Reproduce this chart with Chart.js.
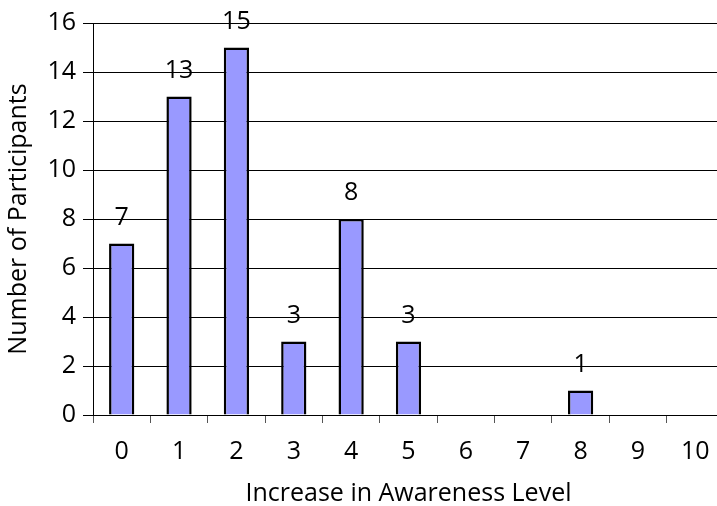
<!DOCTYPE html>
<html>
<head>
<meta charset="utf-8">
<script src="https://cdn.jsdelivr.net/npm/chart.js@4/dist/chart.umd.min.js"></script>
<style>
  html, body { margin: 0; padding: 0; background: #fff; overflow: hidden; }
  #wrap { width: 724px; height: 506px; }
</style>
</head>
<body>
<div id="wrap"><canvas id="myChart"></canvas></div>
<script>
var levels = ['0', '1', '2', '3', '4', '5', '6', '7', '8', '9', '10'];
var participants = [7, 13, 15, 3, 8, 3, 0, 0, 1, 0, 0];
var yTicks = [0, 2, 4, 6, 8, 10, 12, 14, 16];

var FONT = '"Open Sans", "DejaVu Sans", sans-serif';
var SIZE = 25;

// numbers above the bars (zero bars get no label)
var barLabels = {
  id: 'barLabels',
  afterDatasetsDraw: function(chart) {
    var ctx = chart.ctx;
    var meta = chart.getDatasetMeta(0);
    ctx.save();
    ctx.font = SIZE + 'px ' + FONT;
    ctx.fillStyle = '#000';
    ctx.textAlign = 'center';
    ctx.textBaseline = 'middle';
    meta.data.forEach(function(bar, i) {
      if (participants[i] > 0) {
        ctx.fillText(participants[i], bar.x, bar.y - 26);
      }
    });
    ctx.restore();
  }
};

var ctx = document.getElementById('myChart').getContext('2d');
var chart = new Chart(ctx, {
  type: 'bar',
  data: {
    labels: levels,
    datasets: [{
      data: participants,
      backgroundColor: '#9999ff',
      borderColor: '#000',
      borderWidth: 2.5,
      borderSkipped: 'bottom',
      barPercentage: 0.44,
      categoryPercentage: 1
    }]
  },
  options: {
    responsive: true,
    maintainAspectRatio: false,
    animation: false,
    layout: { padding: { top: 23, left: 0, right: 0, bottom: 0 } },
    plugins: { legend: { display: false }, tooltip: { enabled: false } },
    scales: {
      x: {
        grid: { offset: true, drawOnChartArea: false, tickLength: 8, color: '#555', lineWidth: 1 },
        border: { color: '#000', width: 1 },
        ticks: { color: '#000', font: { family: FONT, size: SIZE }, padding: 14 },
        title: { display: true, text: 'Increase in Awareness Level', color: '#000',
                 font: { family: FONT, size: SIZE }, padding: { top: 0, bottom: -3 } },
        afterFit: function(s) { s.height = 91; }
      },
      y: {
        min: 0, max: 16,
        afterBuildTicks: function(s) { s.ticks = yTicks.map(function(v) { return { value: v }; }); },
        grid: { color: '#000', lineWidth: 1, tickLength: 10 },
        border: { color: '#000', width: 1 },
        ticks: { color: '#000', font: { family: FONT, size: SIZE }, padding: 7 },
        title: { display: true, text: 'Number of Participants', color: '#000',
                 font: { family: FONT, size: SIZE }, padding: { bottom: 4 } },
        afterFit: function(s) { s.width = 93; }
      }
    }
  },
  plugins: [barLabels]
});
</script>
</body>
</html>
